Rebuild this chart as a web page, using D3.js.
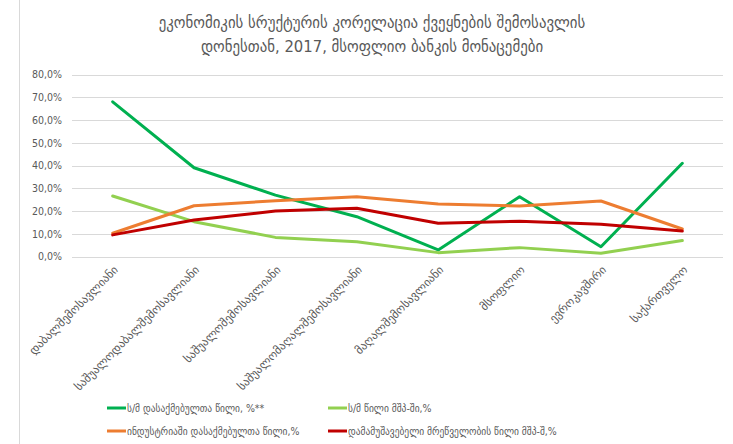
<!DOCTYPE html>
<html><head><meta charset="utf-8">
<script src="https://cdn.jsdelivr.net/npm/d3@7"></script>
<style>body{margin:0;background:#fff}svg{display:block}text{font-family:"DejaVu Sans Condensed","DejaVu Sans",sans-serif}</style>
</head><body><div id="c"></div>
<script>
const categories = ["დაბალშემოსავლიანი","საშუალოდაბალშემოსავლიანი","საშუალოშემოსავლიანი","საშუალომაღალშემოსავლიანი","მაღალშემოსავლიანი","მსოფლიო","ევროკავშირი","საქართველო"];
const agriEmployment = [68.0, 39.0, 27.0, 17.5, 2.9, 26.3, 4.3, 41.0];
const agriGdp = [26.6, 15.3, 8.4, 6.5, 1.7, 3.9, 1.4, 7.0];
const industryEmployment = [10.2, 22.3, 24.5, 26.3, 23.1, 22.2, 24.4, 12.1];
const manufacturingGdp = [9.5, 16.0, 20.0, 21.2, 14.6, 15.5, 14.2, 11.2];
const yTicks = [0, 10, 20, 30, 40, 50, 60, 70, 80];
const titleLines = ["ეკონომიკის სრუქტურის კორელაცია ქვეყნების შემოსავლის", "დონესთან, 2017, მსოფლიო ბანკის მონაცემები"];
const seriesNames = ["ს/მ დასაქმებულთა წილი, %**", "ს/მ წილი მშპ-ში,%", "ინდუსტრიაში დასაქმებულთა წილი,%", "დამამუშავებელი მრეწველობის წილი მშპ-შ,%"];
const seriesColors = ["#00B050", "#92D050", "#ED7D31", "#C00000"];

const series = [agriEmployment, agriGdp, industryEmployment, manufacturingGdp].map((v,i)=>({name:seriesNames[i], color:seriesColors[i], values:v}));

const W=733,H=444;
const svg=d3.select("#c").append("svg").attr("width",W).attr("height",H);
svg.append("line").attr("x1",19.5).attr("x2",19.5).attr("y1",0).attr("y2",H).attr("stroke","#d9d9d9");

const x=d3.scaleBand().domain(categories).range([72,723]);
const y=d3.scaleLinear().domain([0,80]).range([256.5,74.5]);

// title
svg.append("g").selectAll("text").data(titleLines).join("text")
  .attr("x",372).attr("y",(d,i)=>28+i*24).attr("text-anchor","middle")
  .attr("font-size",16.5).attr("fill","#595959").text(d=>d);

// grid
svg.append("g").selectAll("line").data(yTicks).join("line")
  .attr("x1",72).attr("x2",723).attr("y1",d=>Math.round(y(d))+0.5).attr("y2",d=>Math.round(y(d))+0.5)
  .attr("stroke","#d9d9d9").attr("stroke-width",1);

// y axis
const ya=svg.append("g").attr("transform","translate(72,0)")
  .call(d3.axisLeft(y).tickValues(yTicks).tickSize(0).tickPadding(10).tickFormat(d=>d3.format(".1f")(d).replace(".",",")+"%"));
ya.select(".domain").remove();
ya.selectAll("text").attr("font-size",10.5).attr("fill","#595959").style("font-family","DejaVu Sans Condensed, DejaVu Sans, sans-serif");

// x axis labels
const xa=svg.append("g").attr("transform","translate(0,256.5)")
  .call(d3.axisBottom(x).tickSize(0).tickPadding(0));
xa.select(".domain").remove();
xa.selectAll("text").attr("font-size",11.5).attr("fill","#595959")
  .attr("text-anchor","end").attr("dy",0).attr("y",0)
  .attr("transform","translate(6,14) rotate(-45)")
  .style("font-family","DejaVu Sans, sans-serif");

// lines
const line=d3.line().x((d,i)=>x(categories[i])+x.bandwidth()/2).y(d=>y(d));
svg.append("g").selectAll("path").data(series).join("path")
  .attr("d",d=>line(d.values)).attr("fill","none").attr("stroke",d=>d.color)
  .attr("stroke-width",3).attr("stroke-linejoin","round").attr("stroke-linecap","round");

// legend
const lpos=[[107,408],[328,408],[107,431],[328,431]];
const lg=svg.append("g").selectAll("g").data(series).join("g")
  .attr("transform",(d,i)=>`translate(${lpos[i][0]},${lpos[i][1]})`);
lg.append("line").attr("x1",0).attr("x2",19).attr("y1",0).attr("y2",0).attr("stroke",d=>d.color).attr("stroke-width",3);
lg.append("text").attr("x",20).attr("y",4).attr("font-size",10.5).attr("fill","#595959").text(d=>d.name);
</script></body></html>
